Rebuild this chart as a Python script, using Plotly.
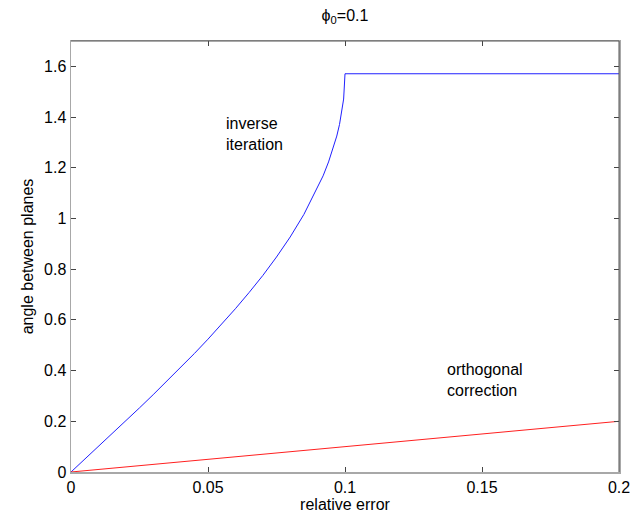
import plotly.graph_objects as go

# ---- data ----
rel_err_inverse = [0.0, 0.005, 0.01, 0.015, 0.02, 0.025, 0.03, 0.035, 0.04, 0.045,
                   0.05, 0.055, 0.06, 0.065, 0.07, 0.075, 0.08, 0.085, 0.09, 0.092,
                   0.094, 0.096, 0.097, 0.098, 0.099, 0.0995, 0.1, 0.2]
angle_inverse = [0.0, 0.050, 0.100, 0.151, 0.201, 0.253, 0.305, 0.358, 0.412, 0.467,
                 0.524, 0.582, 0.644, 0.708, 0.775, 0.848, 0.927, 1.016, 1.120, 1.168,
                 1.223, 1.287, 1.325, 1.371, 1.429, 1.471, 1.5708, 1.5708]

rel_err_orth = [0.0, 0.05, 0.1, 0.15, 0.2]
angle_orth = [0.0, 0.05, 0.1, 0.15, 0.2]

x_tickvals = [0, 0.05, 0.1, 0.15, 0.2]
x_ticktext = ["0", "0.05", "0.1", "0.15", "0.2"]
y_tickvals = [0, 0.2, 0.4, 0.6, 0.8, 1.0, 1.2, 1.4, 1.6]
y_ticktext = ["0", "0.2", "0.4", "0.6", "0.8", "1", "1.2", "1.4", "1.6"]

FONT = "Liberation Sans, Arial, Helvetica, sans-serif"
FS = 16

fig = go.Figure()
fig.add_trace(go.Scatter(x=rel_err_inverse, y=angle_inverse, mode="lines",
                         line=dict(color="#2020ff", width=1), showlegend=False,
                         hoverinfo="skip"))
fig.add_trace(go.Scatter(x=rel_err_orth, y=angle_orth, mode="lines",
                         line=dict(color="#ff2020", width=1), showlegend=False,
                         hoverinfo="skip"))

axis_common = dict(
    showgrid=False, zeroline=False, showline=True, linecolor="#a8a8a8", linewidth=1.5,
    mirror="allticks", ticks="inside", ticklen=5, tickwidth=1, tickcolor="#444444",
    tickfont=dict(family=FONT, size=FS, color="#000000"),
)

fig.update_layout(
    width=634, height=517,
    margin=dict(l=71, r=15, t=41, b=45),
    paper_bgcolor="#ffffff", plot_bgcolor="#ffffff",
    font=dict(family=FONT, size=FS, color="#000000"),
    title=dict(text="\u03d5<sub>0</sub>=0.1", x=(71 + 619) / 2 / 634, xanchor="center",
               y=1 - 15 / 517, yanchor="middle", xref="container", yref="container",
               font=dict(family=FONT, size=FS, color="#000000")),
    xaxis=dict(range=[0, 0.2], tickvals=x_tickvals, ticktext=x_ticktext,
               title=dict(text="relative error", standoff=1,
                          font=dict(family=FONT, size=FS, color="#000000")),
               automargin=False, **axis_common),
    yaxis=dict(range=[0, 1.7], tickvals=y_tickvals, ticktext=y_ticktext,
               title=dict(text="angle between planes", standoff=6,
                          font=dict(family=FONT, size=FS, color="#000000")),
               automargin=False, **axis_common),
    annotations=[
        dict(text="inverse<br>iteration", xref="x", yref="y", x=0.0558, y=1.335,
             xanchor="left", yanchor="middle", align="left", showarrow=False,
             font=dict(family=FONT, size=FS, color="#000000")),
        dict(text="orthogonal<br>correction", xref="x", yref="y", x=0.1365, y=0.363,
             xanchor="left", yanchor="middle", align="left", showarrow=False,
             font=dict(family=FONT, size=FS, color="#000000")),
    ],
    shapes=[
        dict(type="line", xref="paper", yref="paper", x0=0, x1=1, y0=1, y1=1,
             line=dict(color="#555555", width=1), layer="above"),
        dict(type="line", xref="paper", yref="paper", x0=1, x1=1, y0=0, y1=1,
             line=dict(color="#555555", width=1), layer="above"),
    ],
)

fig.write_html("out.html",
               config={"displayModeBar": False, "staticPlot": True},
               post_script="document.body.style.margin='0';document.body.style.overflow='hidden';")
